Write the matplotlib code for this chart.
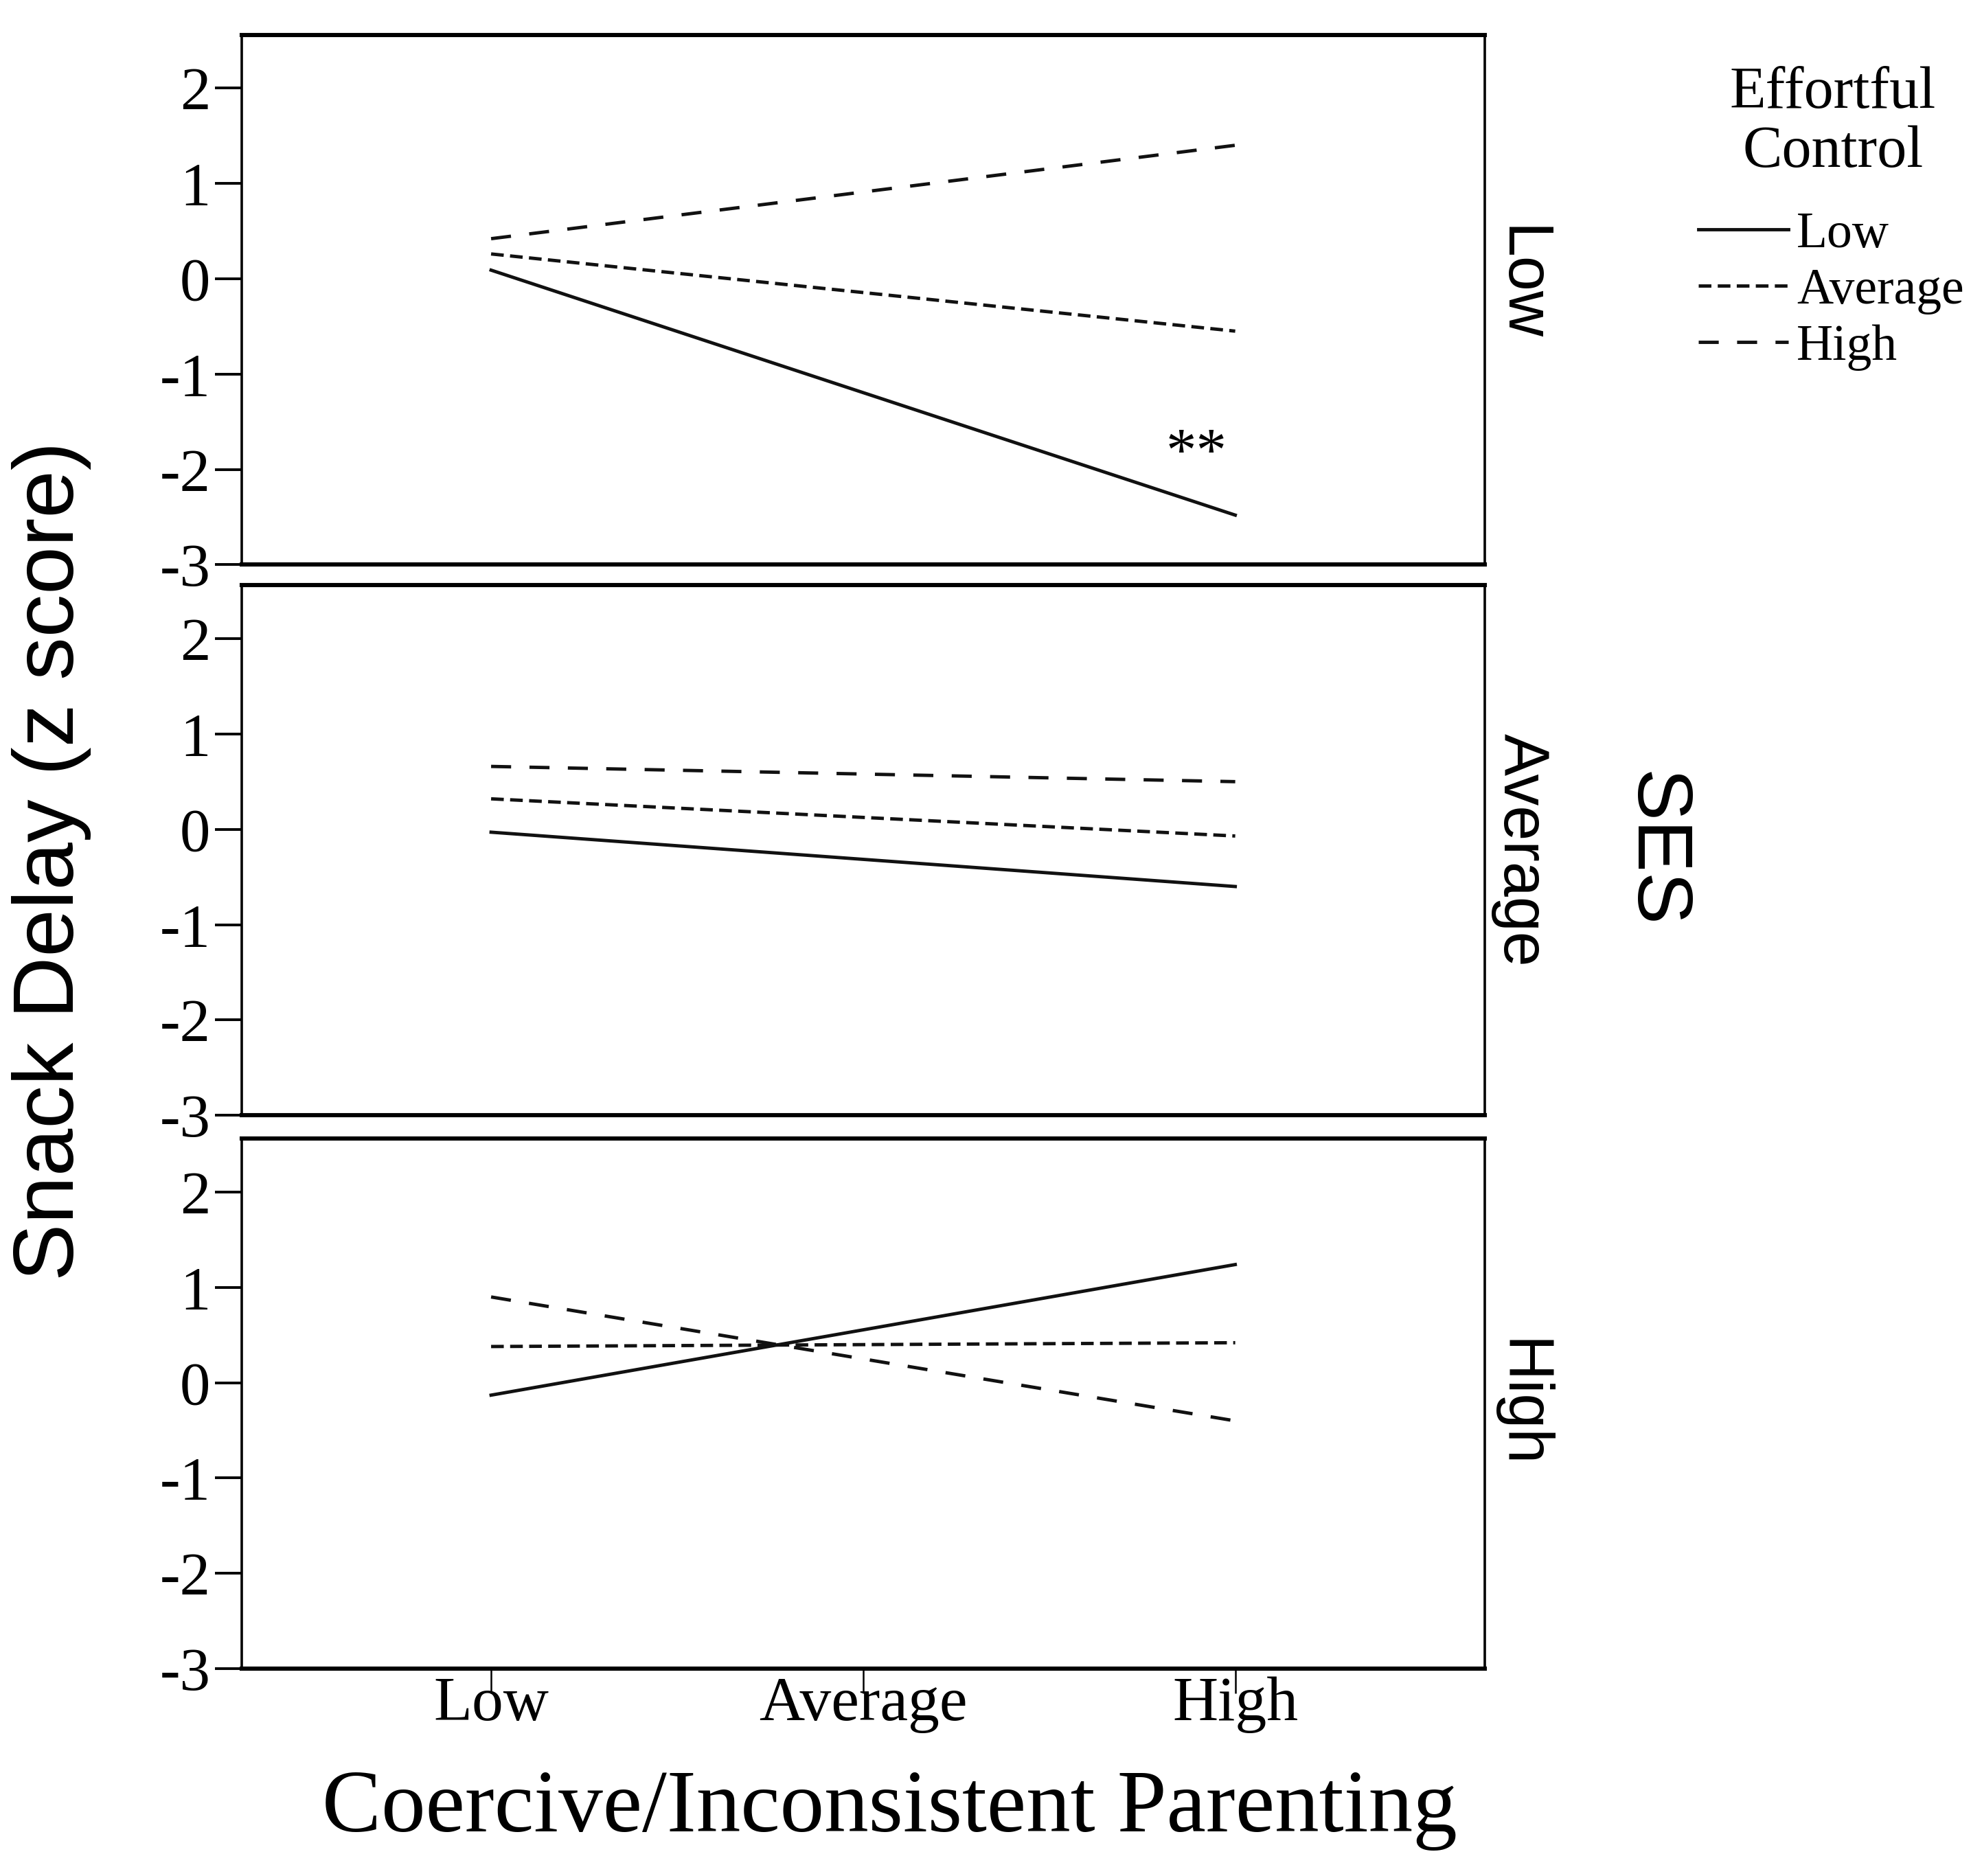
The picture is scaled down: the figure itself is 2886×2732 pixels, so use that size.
import matplotlib
matplotlib.use("Agg")
import matplotlib.pyplot as plt

plt.rcParams["axes.unicode_minus"] = False

SERIF = "Liberation Serif"
SANS = "Liberation Sans"

# parenting levels on the x axis (lines drawn at Low and High only)
parenting_levels = ["Low", "Average", "High"]
parenting_pos = [0, 1, 2]
line_x = [0, 2]

ses_levels = ["Low", "Average", "High"]
ec_levels = ["Low", "Average", "High"]

# snack delay (z) at low / high parenting, one row per effortful control level
snack_ses_low = [[0.09, -2.48], [0.26, -0.55], [0.42, 1.40]]
snack_ses_avg = [[-0.03, -0.60], [0.32, -0.07], [0.66, 0.50]]
snack_ses_high = [[-0.13, 1.24], [0.38, 0.42], [0.90, -0.40]]
panels = [snack_ses_low, snack_ses_avg, snack_ses_high]

y_ticks = [-3, -2, -1, 0, 1, 2]
y_ticklabels = ["-3", "-2", "-1", "0", "1", "2"]

styles = ["-", (0, (3.8, 1.9)), (0, (6, 5.5))]

fig = plt.figure(figsize=(14.43, 13.66), dpi=200)
bottoms = [0.6990, 0.4055, 0.1105]
label_y = [0.53, 0.5, 0.5]
axes = []
for i, (b, data) in enumerate(zip(bottoms, panels)):
    ax = fig.add_axes([0.122, b, 0.627, 0.2825])
    axes.append(ax)
    for vals, ls, lab in zip(data, styles, ec_levels):
        ax.plot(line_x, vals, linestyle=ls, color="#111111", linewidth=1.75, label=lab)
    ax.set_xlim(-0.67, 2.67)
    ax.set_ylim(-3, 2.56)
    ax.set_yticks(y_ticks)
    ax.set_yticklabels(y_ticklabels, fontfamily=SERIF, fontsize=32)
    ax.tick_params(axis="y", direction="out", length=14, width=1.4, pad=2.5)
    for side in ["left", "right"]:
        ax.spines[side].set_linewidth(1.3)
    for side in ["top", "bottom"]:
        ax.spines[side].set_linewidth(2.2)
    ax.text(1.0155, label_y[i], ses_levels[i], transform=ax.transAxes, rotation=-90,
            rotation_mode="anchor", ha="center", va="baseline",
            fontsize=33, fontfamily=SANS)
    if i < 2:
        ax.set_xticks([])
    else:
        ax.set_xticks(parenting_pos)
        ax.set_xticklabels(parenting_levels, fontfamily=SERIF, fontsize=33)
        ax.tick_params(axis="x", direction="out", length=13, width=0.9, pad=-9)

axes[0].text(1.895, -2.0, "**", ha="center", va="baseline", fontsize=32, fontfamily=SERIF)

fig.text(0.026, 0.541, "Snack Delay (z score)", rotation=90, ha="center", va="center",
         fontsize=45, fontfamily=SANS)
fig.text(0.449, 0.0238, "Coercive/Inconsistent Parenting", ha="center", va="baseline",
         fontsize=46.5, fontfamily=SERIF)
fig.text(0.8247, 0.5472, "SES", rotation=-90, rotation_mode="anchor", ha="center",
         va="baseline", fontsize=41, fontfamily=SANS)

# legend
fig.text(0.9248, 0.9425, "Effortful", ha="center", va="baseline", fontsize=31, fontfamily=SERIF)
fig.text(0.9248, 0.9111, "Control", ha="center", va="baseline", fontsize=31, fontfamily=SERIF)
handles, labels = axes[0].get_legend_handles_labels()
fig.legend(handles, labels, loc="upper left", bbox_to_anchor=(0.8569, 0.8872),
           frameon=False, handlelength=1.78, handletextpad=0.16, labelspacing=0.2,
           borderpad=0, borderaxespad=0, prop={"family": SERIF, "size": 26.5})

fig.savefig("out.png", dpi=200, facecolor="white")
